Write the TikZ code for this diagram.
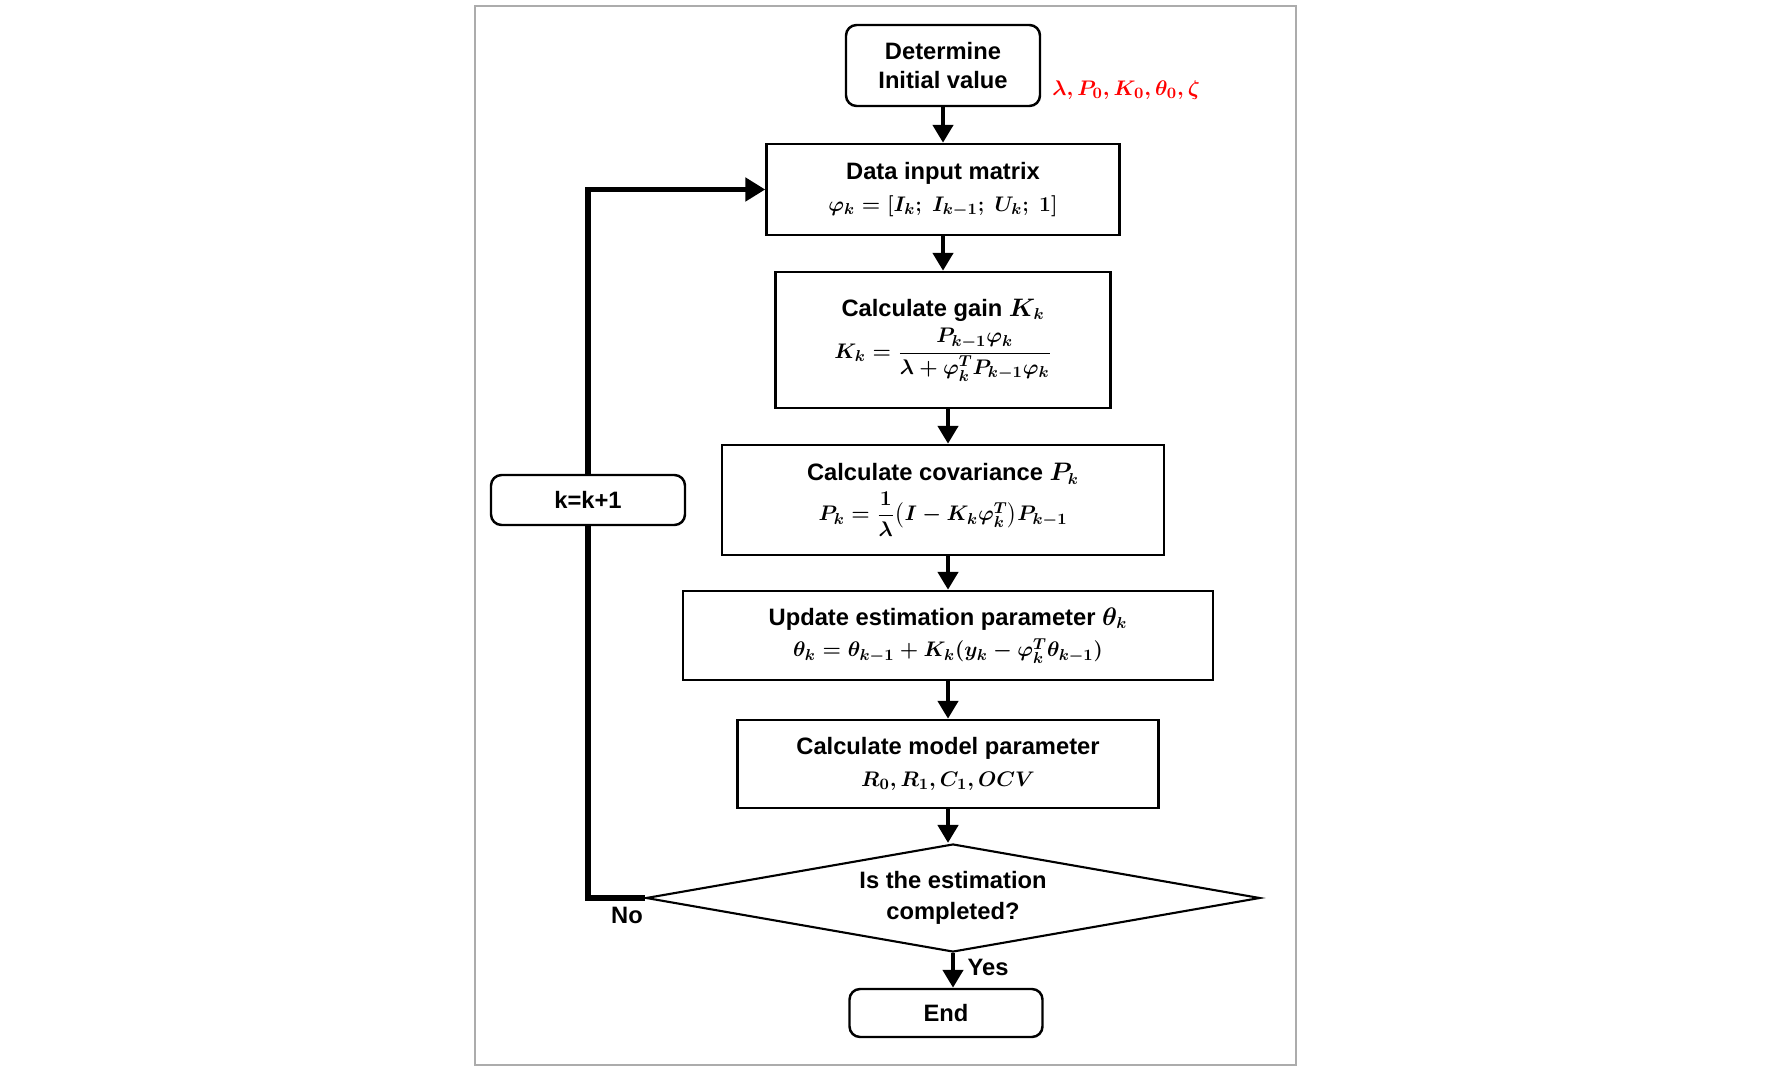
\documentclass[tikz,border=0pt]{standalone}
\usepackage{amsmath}
\usepackage{fontspec}
\setmainfont{Liberation Sans}
\usetikzlibrary{shapes.geometric,arrows.meta}
\newcommand{\eqline}[1]{{\fontsize{12.6}{15}\selectfont$#1$}}
\begin{document}
\begin{tikzpicture}[
    box/.style={draw, line width=1.4pt, fill=white, align=center, inner sep=0pt, font=\fontsize{13.5}{16}\selectfont\bfseries\boldmath},
    rbox/.style={box, rounded corners=6pt},
    flow/.style={line width=2.8pt, -{Triangle[width=0.4cm,length=0.36cm]}},
    loopline/.style={line width=3.4pt}
  ]
  \useasboundingbox (0,0) rectangle (35.44,-21.4);
  \draw[gray!65, line width=0.8pt] (9.5,-0.12) rectangle (25.92,-21.3);
  \node[rbox, minimum width=3.88cm, minimum height=1.62cm] (init) at (18.86,-1.31) {Determine\\[1pt]Initial value};
  \node[anchor=west, text=red, font=\fontsize{13}{15}\selectfont\boldmath] (param) at ([xshift=0.1cm,yshift=-0.5cm]init.east) {$\lambda,P_0,K_0,\theta_0,\zeta$};
  \node[box, minimum width=7.06cm, minimum height=1.82cm] (data) at (18.86,-3.79) {Data input matrix\\[2pt] \eqline{\varphi_k=[I_k;\ I_{k-1};\ U_k;\ 1]}};
  \node[box, minimum width=6.7cm, minimum height=2.72cm] (gain) at (18.86,-6.8) {Calculate gain $K_k$\\[3pt] \eqline{K_k=\dfrac{P_{k-1}\varphi_k}{\lambda+\varphi_k^TP_{k-1}\varphi_k}}};
  \node[box, minimum width=8.84cm, minimum height=2.2cm] (cov) at (18.86,-10.0) {Calculate covariance $P_k$\\[3pt] \eqline{P_k=\dfrac{1}{\lambda}\bigl(I-K_k\varphi_k^T\bigr)P_{k-1}}};
  \node[box, minimum width=10.6cm, minimum height=1.78cm] (upd) at (18.96,-12.71) {Update estimation parameter $\theta_k$\\[2pt] \eqline{\theta_k=\theta_{k-1}+K_k(y_k-\varphi_k^T\theta_{k-1})}};
  \node[box, minimum width=8.42cm, minimum height=1.76cm] (model) at (18.96,-15.28) {Calculate model parameter\\[2pt] \eqline{R_0,R_1,C_1,OCV}};
  \node[box, diamond, aspect=5.7, line width=1.2pt, minimum width=12.28cm, minimum height=2.16cm] (dec) at (19.06,-17.96) {Is the estimation\\[2pt] completed?};
  \node[rbox, minimum width=3.86cm, minimum height=0.96cm] (end) at (18.92,-20.26) {End};
  \node[rbox, minimum width=3.88cm, minimum height=1.0cm] (kbox) at (11.76,-10.0) {k=k+1};
  \draw[flow] (init) -- (data);
  \draw[flow] (data) -- (gain);
  \draw[flow] ([xshift=0.1cm]gain.south) -- ([xshift=0.1cm]cov.north);
  \draw[flow] ([xshift=0.1cm]cov.south) -- (upd);
  \draw[flow] (upd) -- (model);
  \draw[flow] (model.south) -- (model.south |- dec.north);
  \draw[flow] (dec.south) -- (dec.south |- end.north);
  \draw[loopline] (dec.west) -| (kbox.south);
  \draw[loopline, -{Triangle[width=0.46cm,length=0.4cm]}] (kbox.north) |- (data.west);
  \node[font=\fontsize{13.5}{16}\selectfont\bfseries] (no) at (12.54,-18.3) {No};
  \node[font=\fontsize{13.5}{16}\selectfont\bfseries] (yes) at (19.76,-19.34) {Yes};
\end{tikzpicture}
\end{document}
